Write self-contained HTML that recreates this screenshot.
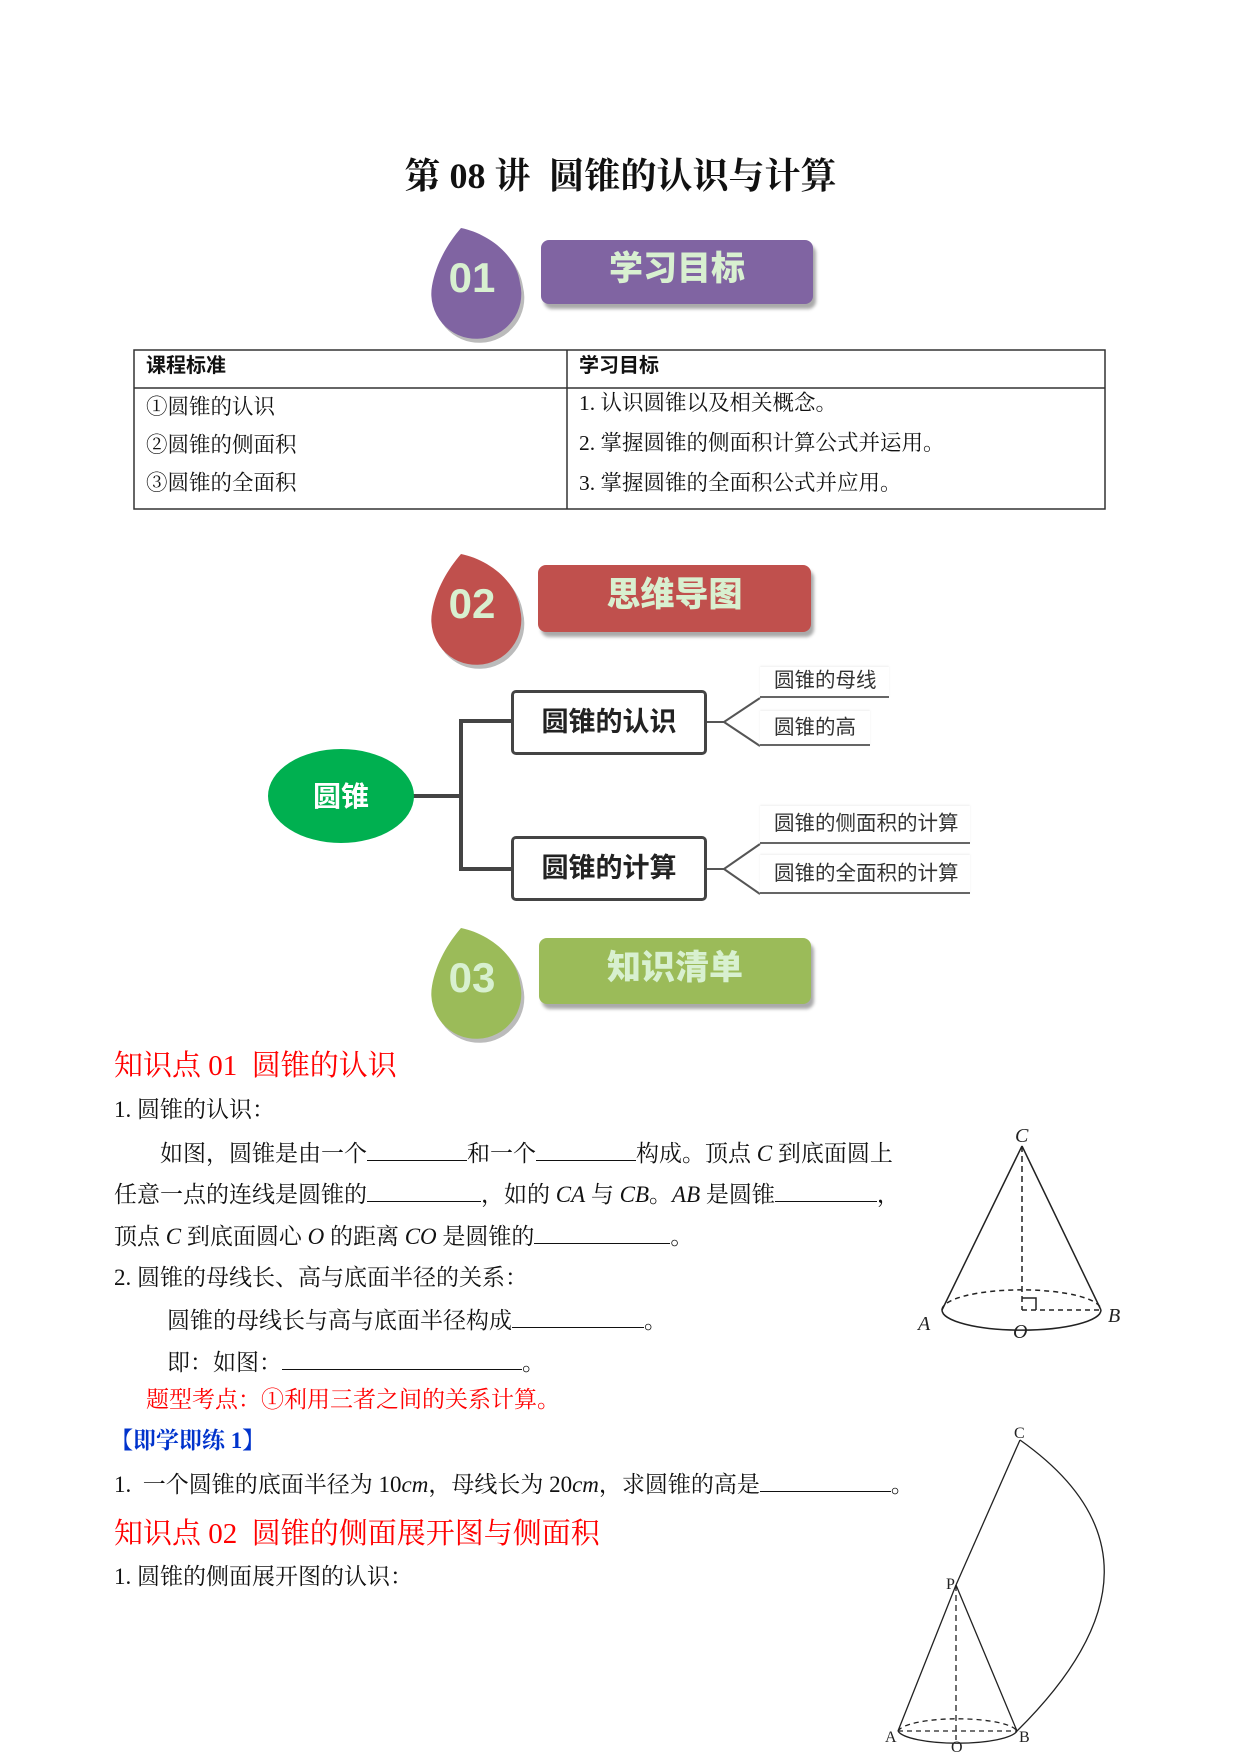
<!DOCTYPE html>
<html><head><meta charset="utf-8"><style>
body{margin:0;background:#fff;width:1241px;height:1754px;position:relative;overflow:hidden;font-family:"Liberation Serif","Noto Serif CJK SC",serif;color:#111}
.a{position:absolute;white-space:nowrap}
.t{font-size:23px;line-height:26px}
.tb{font-size:21.5px;line-height:24px}
.b{display:inline-block;border-bottom:1px solid #111;height:20px;vertical-align:baseline}
.h{font-size:29px;color:#f00}
.pill{position:absolute;border-radius:8px;color:#d8f0d0;font-family:"Liberation Sans","Noto Sans CJK SC",sans-serif;font-weight:900;font-size:34px;text-align:center;box-shadow:3px 5px 3px #aaa}
.leaf{position:absolute;font-family:"Liberation Sans","Noto Sans CJK SC",sans-serif;font-size:20.5px;color:#333;border-bottom:2px solid #666;padding-left:14px;box-shadow:0 -1px 2px #eee}
.node{position:absolute;border:3px solid #444;border-radius:5px;font-family:"Liberation Sans","Noto Sans CJK SC",sans-serif;font-weight:bold;font-size:27px;text-align:center;color:#222;box-sizing:border-box}
i{font-style:italic}
</style></head><body>
<div class="a" style="left:0;width:1241px;top:148px;text-align:center;font-size:36px;font-weight:bold">第 08 讲&nbsp; 圆锥的认识与计算</div>

<svg class="a" style="left:0;top:0" width="1241" height="1754">
 <defs>
  <path id="drop" d="M-15,-50 C10,-45 40,-25 44,5 A45,45 0 1 1 -44,8 C-40,-15 -28,-35 -15,-50 Z"/>
 </defs>
 <g transform="translate(476,278)"><use href="#drop" fill="#bbb" transform="translate(3,4)"/><use href="#drop" fill="#8064a2"/></g>
 <g transform="translate(476,604)"><use href="#drop" fill="#bbb" transform="translate(3,4)"/><use href="#drop" fill="#c0504d"/></g>
 <g transform="translate(476,978)"><use href="#drop" fill="#bbb" transform="translate(3,4)"/><use href="#drop" fill="#9bbb59"/></g>
 <g font-family="Liberation Sans Narrow,Liberation Sans,sans-serif" font-weight="bold" font-size="42" fill="#d8f0d0" text-anchor="middle">
  <text x="472" y="292">01</text>
  <text x="472" y="618">02</text>
  <text x="472" y="992">03</text>
 </g>
 <g stroke="#333" stroke-width="1.5" fill="none">
  <rect x="134" y="350" width="971" height="159"/>
  <line x1="134" y1="388" x2="1105" y2="388"/>
  <line x1="567" y1="350" x2="567" y2="509"/>
 </g>
 <g stroke="#444" stroke-width="4" fill="none">
  <line x1="412" y1="796" x2="461" y2="796"/>
  <polyline points="511,721 461,721 461,869 511,869"/>
 </g>
 <g stroke="#555" stroke-width="2" fill="none">
  <polyline points="707,722 724,722 760,698"/><polyline points="724,722 760,746"/>
  <polyline points="707,869 724,869 760,844"/><polyline points="724,869 760,894"/>
 </g>
 <ellipse cx="341" cy="796" rx="73" ry="47" fill="#00b050"/>
 <text x="341" y="806" font-family="Liberation Sans,Noto Sans CJK SC,sans-serif" font-weight="bold" font-size="28" fill="#fff" text-anchor="middle">圆锥</text>
 <g stroke="#222" stroke-width="1.5" fill="none">
  <line x1="1022" y1="1146" x2="942" y2="1310"/>
  <line x1="1022" y1="1146" x2="1101" y2="1310"/>
  <path d="M942,1310 A79,20 0 0 0 1101,1310"/>
  <path d="M942,1310 A79,20 0 0 1 1101,1310" stroke-dasharray="5,4"/>
  <line x1="1022" y1="1146" x2="1022" y2="1310" stroke-dasharray="6,4"/>
  <line x1="1022" y1="1310" x2="1101" y2="1310" stroke-dasharray="5,4"/>
  <polyline points="1022,1298 1036,1298 1036,1310"/>
 </g>
 <g font-family="Liberation Serif,serif" font-style="italic" font-size="20" fill="#222">
  <text x="1015" y="1142">C</text><text x="918" y="1330">A</text><text x="1108" y="1322">B</text><text x="1013" y="1338">O</text>
 </g>
 <g stroke="#222" stroke-width="1.3" fill="none">
  <line x1="1020" y1="1440" x2="956" y2="1585"/>
  <line x1="956" y1="1585" x2="898" y2="1731"/>
  <line x1="956" y1="1585" x2="1017" y2="1731"/>
  <line x1="956" y1="1585" x2="956" y2="1740" stroke-dasharray="6,4"/>
  <path d="M898,1731 A60,14 0 0 0 1017,1731"/>
  <path d="M898,1731 A60,14 0 0 1 1017,1731" stroke-dasharray="5,4"/>
  <line x1="898" y1="1731" x2="1017" y2="1731" stroke-dasharray="5,4"/>
  <path d="M1020,1440 Q1190,1560 1017,1731"/>
 </g>
 <g font-family="Liberation Serif,serif" font-size="16" fill="#222">
  <text x="1014" y="1438">C</text><text x="946" y="1589">P</text><text x="885" y="1742">A</text><text x="1019" y="1742">B</text><text x="951" y="1752">O</text>
 </g>
</svg>

<div class="pill" style="left:541px;top:240px;width:272px;height:64px;line-height:58px;background:#8064a2">学习目标</div>
<div class="pill" style="left:538px;top:565px;width:273px;height:67px;line-height:60px;background:#c0504d">思维导图</div>
<div class="pill" style="left:539px;top:938px;width:272px;height:66px;line-height:60px;background:#9bbb59">知识清单</div>

<div class="a tb" style="left:146px;top:354px;font-weight:bold;font-family:'Liberation Sans','Noto Sans CJK SC',sans-serif;font-size:20px">课程标准</div>
<div class="a tb" style="left:579px;top:354px;font-weight:bold;font-family:'Liberation Sans','Noto Sans CJK SC',sans-serif;font-size:20px">学习目标</div>
<div class="a tb" style="left:146px;top:395px">①圆锥的认识</div>
<div class="a tb" style="left:146px;top:433px">②圆锥的侧面积</div>
<div class="a tb" style="left:146px;top:471px">③圆锥的全面积</div>
<div class="a tb" style="left:579px;top:391px">1. 认识圆锥以及相关概念。</div>
<div class="a tb" style="left:579px;top:431px">2. 掌握圆锥的侧面积计算公式并运用。</div>
<div class="a tb" style="left:579px;top:471px">3. 掌握圆锥的全面积公式并应用。</div>

<div class="node" style="left:511px;top:690px;width:196px;height:65px;line-height:59px">圆锥的认识</div>
<div class="node" style="left:511px;top:836px;width:196px;height:65px;line-height:59px">圆锥的计算</div>
<div class="leaf" style="left:760px;top:667px;width:115px;height:29px;line-height:28px">圆锥的母线</div>
<div class="leaf" style="left:760px;top:711px;width:96px;height:33px;line-height:34px">圆锥的高</div>
<div class="leaf" style="left:760px;top:806px;width:196px;height:36px;line-height:36px">圆锥的侧面积的计算</div>
<div class="leaf" style="left:760px;top:855px;width:196px;height:37px;line-height:38px">圆锥的全面积的计算</div>

<div class="a h" style="left:114px;top:1043px">知识点 01&nbsp; 圆锥的认识</div>
<div class="a t" style="left:114px;top:1097px">1. 圆锥的认识：</div>
<div class="a t" style="left:160px;top:1140px">如图，圆锥是由一个<span class="b" style="width:100px"></span>和一个<span class="b" style="width:100px"></span>构成。顶点 <i>C</i> 到底面圆上</div>
<div class="a t" style="left:114px;top:1181px">任意一点的连线是圆锥的<span class="b" style="width:114px"></span>，如的 <i>CA</i> 与 <i>CB</i>。<i>AB</i> 是圆锥<span class="b" style="width:102px"></span>，</div>
<div class="a t" style="left:114px;top:1223px">顶点 <i>C</i> 到底面圆心 <i>O</i> 的距离 <i>CO</i> 是圆锥的<span class="b" style="width:136px"></span>。</div>
<div class="a t" style="left:114px;top:1265px">2. 圆锥的母线长、高与底面半径的关系：</div>
<div class="a t" style="left:167px;top:1307px">圆锥的母线长与高与底面半径构成<span class="b" style="width:132px"></span>。</div>
<div class="a t" style="left:167px;top:1349px">即：如图：<span class="b" style="width:240px"></span>。</div>
<div class="a t" style="left:146px;top:1387px;color:#f00">题型考点：①利用三者之间的关系计算。</div>
<div class="a t" style="left:110px;top:1428px;color:#0033cc;font-weight:bold">【即学即练 1】</div>
<div class="a t" style="left:114px;top:1471px">1.&nbsp; 一个圆锥的底面半径为 10<i>cm</i>，母线长为 20<i>cm</i>，求圆锥的高是<span class="b" style="width:131px"></span>。</div>
<div class="a h" style="left:114px;top:1511px">知识点 02&nbsp; 圆锥的侧面展开图与侧面积</div>
<div class="a t" style="left:114px;top:1564px">1. 圆锥的侧面展开图的认识：</div>
</body></html>
